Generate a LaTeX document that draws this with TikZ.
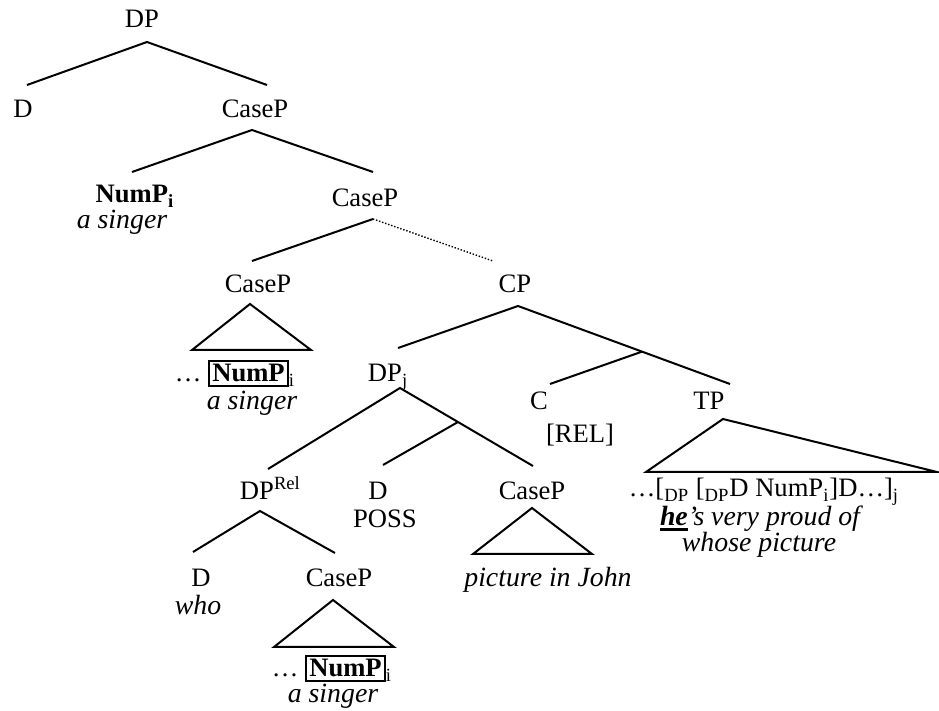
\documentclass[tikz,border=0pt]{standalone}
\usepackage{fontspec}
\setmainfont{Liberation Serif}
\usetikzlibrary{calc}
\newcommand\boxnum{{\fboxsep=1.2pt\fboxrule=0.9pt\fbox{\textbf{NumP}}}}
\newcommand\heavyul[1]{\setbox0\hbox{#1}\rlap{\rule[-2.6pt]{\wd0}{1.4pt}}\box0}
\tikzset{
  lbl/.style={anchor=base,inner sep=0pt,text height=16pt,text depth=5pt},
  txt/.style={anchor=base,inner sep=0pt},
  gl/.style={anchor=base,inner sep=0pt,font=\fontsize{13.9}{16}\selectfont\itshape},
  dotline/.style={line width=0.7pt,dash pattern=on 0.7pt off 0.9pt},
}
\begin{document}
\begin{tikzpicture}[x=0.5pt,y=-0.5pt,font=\fontsize{13.3}{16}\selectfont,line width=1pt]
\useasboundingbox (0,0) rectangle (939,711);
% top of the tree
\node[lbl] (dp)     at (142,28)  {DP};
\node[lbl] (d1)     at (23,118)  {D};
\node[lbl] (casep1) at (255,118) {CaseP};
\node[lbl] (nump)   at (135,203) {\textbf{NumP\textsubscript{i}}};
\node[gl]  (nump-g) at (122,229) {a singer};
\node[lbl] (casep2) at (365,207) {CaseP};
\node[lbl] (casep3) at (258,293) {CaseP};
\node[lbl] (cp)     at (515,293) {CP};
\node[lbl] (numpa)  at (235,382) {…\ \boxnum\textsubscript{i}};
\node[gl]  (numpa-g) at (252,410) {a singer};
% relative clause
\node[lbl] (dpj)    at (385,382) {DP\rlap{\textsubscript{j}}};
\node[lbl] (c)      at (539,410) {C};
\node[txt] (c-rel)  at (580,443) {[REL]};
\node[lbl] (tp)     at (709,410) {TP};
\node[txt] (tp-s)   at (764,497) {…[\textsubscript{DP} [\textsubscript{DP}D NumP\textsubscript{i}]D…]\textsubscript{j}};
\node[gl]  (tp-g1)  at (760,526) {\heavyul{\textbf{he}}’s very proud of};
\node[gl]  (tp-g2)  at (759,552) {whose picture};
\node[lbl] (dprel)  at (257,500) {DP\rlap{\textsuperscript{Rel}}};
\node[lbl] (d2)     at (378,500) {D};
\node[txt] (d2-poss) at (385,528) {POSS};
\node[lbl] (casep4) at (532,500) {CaseP};
\node[gl]  (casep4-g) at (548,587) {picture in John};
\node[lbl] (d3)     at (201,587) {D};
\node[gl]  (d3-g)   at (198,615) {who};
\node[lbl] (casep5) at (339,587) {CaseP};
\node[lbl] (numpb)  at (332,677) {…\ \boxnum\textsubscript{i}};
\node[gl]  (numpb-g) at (333,703) {a singer};
% branches
\coordinate (cp-b)  at ($(cp.south)+(3,2)$);
\coordinate (tp-t)  at ($(tp.north)+(21,7)$);
\coordinate (cp-m)  at ($(cp-b)!0.585!(tp-t)$);
\coordinate (dpj-b) at ($(dpj.south)+(15,-5)$);
\coordinate (casep4-t) at ($(casep4.north)+(1,-1)$);
\coordinate (dpj-m) at ($(dpj-b)!0.436!(casep4-t)$);
\draw ($(d1.north)+(4,0)$) -- ($(dp.south)+(5,3)$) -- ($(casep1.north)+(12,0)$);
\draw ($(nump.north)+(-3,2)$) -- ($(casep1.south)+(-3,1)$) -- ($(casep2.north)+(8,-2)$);
\draw ($(casep3.north)+(-6,1)$) -- ($(casep2.south)+(8,1)$);
\draw[dotline] ($(casep2.south)+(8,1)$) -- ($(cp.north)+(-22,1)$);
\draw ($(dpj.north)+(13,-1)$) -- (cp-b) -- (tp-t);
\draw ($(c.north)+(11,7)$) -- (cp-m);
\draw ($(dprel.north)+(11,2)$) -- (dpj-b) -- (casep4-t);
\draw ($(d2.north)+(5,-2)$) -- (dpj-m);
\draw ($(d3.north)+(-8,-2)$) -- ($(dprel.south)+(3,0)$) -- ($(casep5.north)+(-4,-1)$);
% triangles
\draw ($(casep3.south)+(-8,0)$) -- ++(-58,46) -- ++(119,0) -- cycle;
\draw ($(casep4.south)+(0,-3)$) -- ++(-59,46) -- ++(119,0) -- cycle;
\draw ($(casep5.south)+(-6,2)$) -- ++(-59,47) -- ++(120,0) -- cycle;
\draw ($(tp.south)+(14,-2)$) -- ++(-77,53) -- ++(291,0) -- cycle;
\end{tikzpicture}
\end{document}
